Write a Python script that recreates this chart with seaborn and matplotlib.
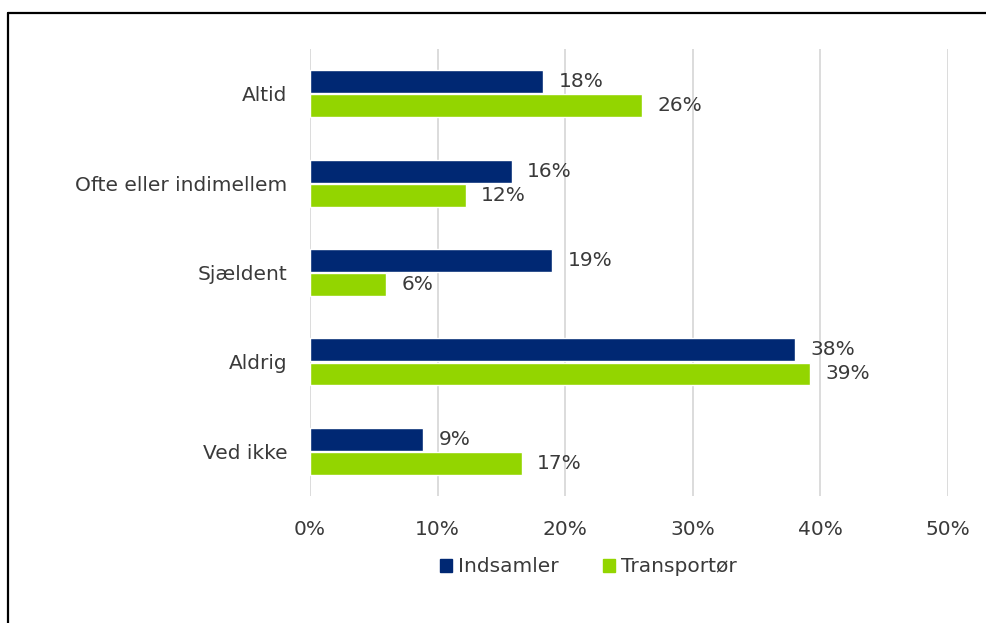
import pandas as pd
import numpy as np
import matplotlib
matplotlib.use('Agg')
import matplotlib.pyplot as plt
import seaborn as sns
from matplotlib.lines import Line2D

categories  = ['Altid', 'Ofte eller indimellem', 'Sjældent', 'Aldrig', 'Ved ikke']
indsamler   = [18.3, 15.8, 19.0, 38.0, 8.9]
transportor = [26.0, 12.2, 6.0, 39.2, 16.6]
series      = ['Indsamler', 'Transportør']
colors      = ['#002873', '#93D500']
x_ticks     = [0, 10, 20, 30, 40, 50]

df = pd.DataFrame({
    'kategori': categories * 2,
    'andel'   : indsamler + transportor,
    'serie'   : [series[0]] * len(categories) + [series[1]] * len(categories),
})

sns.set_style('white')
plt.rcParams['font.family'] = ['DejaVu Sans']
text_col = '#3a3a3a'
fs = 14.5

fig = plt.figure(figsize=(9.87, 6.23), dpi=100)
ax = fig.add_axes([0.314, 0.204, 0.6465, 0.717])

sns.barplot(data=df, x='andel', y='kategori', hue='serie', orient='h',
            palette=colors, width=0.54, gap=0.05, ax=ax, legend=False,
            order=categories, hue_order=series, saturation=1)

for cont in ax.containers:
    vals = [b.get_width() for b in cont]
    ax.bar_label(cont, labels=[f"{round(v):.0f}%" for v in vals],
                 padding=11, fontsize=fs, color=text_col)

ax.set_xlim(0, 50)
ax.set_xticks(x_ticks)
ax.set_xticklabels([f"{t}%" for t in x_ticks], fontsize=fs, color=text_col)
ax.tick_params(axis='y', labelsize=fs, labelcolor=text_col, length=0, pad=16)
ax.tick_params(axis='x', length=0, pad=17)
ax.set_xlabel('')
ax.set_ylabel('')
ax.xaxis.grid(True, color='#d9d9d9', linewidth=1.3)
ax.set_axisbelow(True)
for s in ax.spines.values():
    s.set_visible(False)

handles = [plt.Rectangle((0, 0), 1, 1, color=c) for c in colors]
fig.legend(handles, series, loc='center', bbox_to_anchor=(0.596, 0.09), ncol=2,
           frameon=False, fontsize=fs, handlelength=0.6, handleheight=0.6,
           handletextpad=0.3, columnspacing=2.2, labelcolor=text_col)

# outer frame (top and left edge)
fig.add_artist(Line2D([8.5 / 987, 1], [1 - 12.5 / 623, 1 - 12.5 / 623],
                      transform=fig.transFigure, color='black', linewidth=1.6))
fig.add_artist(Line2D([8.5 / 987, 8.5 / 987], [0, 1 - 12.5 / 623],
                      transform=fig.transFigure, color='black', linewidth=1.6))

plt.savefig('out.png', dpi=100)
plt.close()
